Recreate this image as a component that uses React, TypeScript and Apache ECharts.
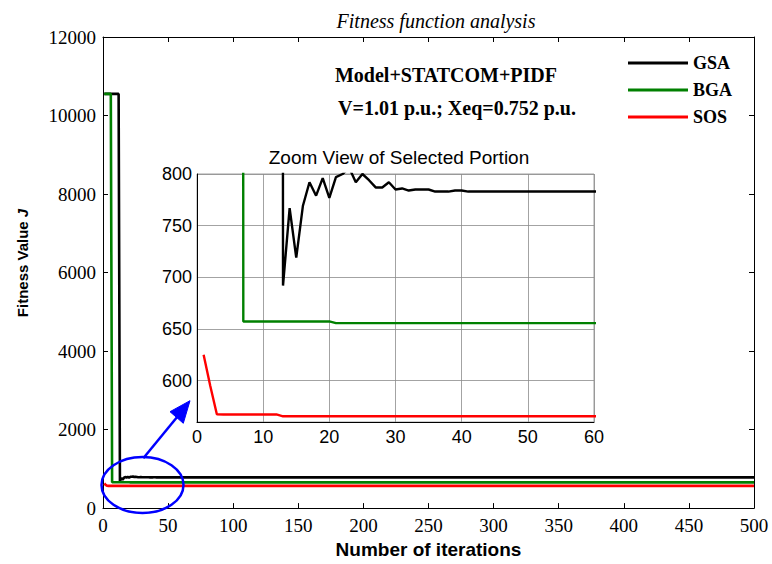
import React, { useEffect, useRef } from "react";
import * as echarts from "echarts";

// Fitness value per iteration (iterations 1..60); the curve stays flat after that until iteration 500
const gsaValues = [
  10550, 10550, 10550, 10550, 10550, 10550, 10550, 10550, 10550, 10550,
  10550, 10550, 692, 767, 719, 769, 792, 779, 796, 777,
  797, 800, 806, 792, 800, 794, 787, 787, 792, 785,
  786, 784, 785, 785, 785, 783, 783, 783, 784, 784,
  783, 783, 783, 783, 783, 783, 783, 783, 783, 783,
  783, 783, 783, 783, 783, 783, 783, 783, 783, 783,
];
const bgaValues = [
  10550, 10550, 10550, 10550, 10550, 10550, 657.3, 657.3, 657.3, 657.3,
  657.3, 657.3, 657.3, 657.3, 657.3, 657.3, 657.3, 657.3, 657.3, 657.3,
  655.7, 655.7, 655.7, 655.7, 655.7, 655.7, 655.7, 655.7, 655.7, 655.7,
  655.7, 655.7, 655.7, 655.7, 655.7, 655.7, 655.7, 655.7, 655.7, 655.7,
  655.7, 655.7, 655.7, 655.7, 655.7, 655.7, 655.7, 655.7, 655.7, 655.7,
  655.7, 655.7, 655.7, 655.7, 655.7, 655.7, 655.7, 655.7, 655.7, 655.7,
];
const sosValues = [
  625, 595, 567.5, 567.3, 567.3, 567.3, 567.3, 567.3, 567.3, 567.3,
  567.3, 567.3, 565.5, 565.5, 565.5, 565.5, 565.5, 565.5, 565.5, 565.5,
  565.5, 565.5, 565.5, 565.5, 565.5, 565.5, 565.5, 565.5, 565.5, 565.5,
  565.5, 565.5, 565.5, 565.5, 565.5, 565.5, 565.5, 565.5, 565.5, 565.5,
  565.5, 565.5, 565.5, 565.5, 565.5, 565.5, 565.5, 565.5, 565.5, 565.5,
  565.5, 565.5, 565.5, 565.5, 565.5, 565.5, 565.5, 565.5, 565.5, 565.5,
];
const lastIteration = 500;
const seriesNames = ["GSA", "BGA", "SOS"];
const seriesColors = ["#000000", "#008000", "#ff0000"];

const titleText = "Fitness function analysis";
const insetTitle = "Zoom View of Selected Portion";
const xAxisTitle = "Number of iterations";
const yAxisTitle = "Fitness Value ";
const yAxisSymbol = "J";
const noteLine1 = "Model+STATCOM+PIDF";
const noteLine2 = "V=1.01 p.u.; Xeq=0.752 p.u.";

const SERIF = "'Liberation Serif', 'Times New Roman', serif";
const SANS = "'Liberation Sans', Arial, sans-serif";

function toPairs(vals: number[]): number[][] {
  const pts = vals.map((v, i) => [i + 1, v]);
  pts.push([lastIteration, vals[vals.length - 1]]);
  return pts;
}

const plain = (v: number) => String(v);

export default function App() {
  const ref = useRef<HTMLDivElement>(null);
  useEffect(() => {
    if (!ref.current) return;
    const chart = echarts.init(ref.current, undefined, { renderer: "svg" });
    const allValues = [gsaValues, bgaValues, sosValues];

    const mainSeries = allValues.map((vals, i) => ({
      type: "line",
      name: seriesNames[i],
      xAxisIndex: 0,
      yAxisIndex: 0,
      data: toPairs(vals),
      showSymbol: false,
      symbol: "none",
      lineStyle: { color: seriesColors[i], width: 2.6 },
      itemStyle: { color: seriesColors[i] },
      z: 2,
    }));
    const insetSeries = allValues.map((vals, i) => ({
      type: "line",
      name: seriesNames[i],
      xAxisIndex: 2,
      yAxisIndex: 2,
      data: toPairs(vals),
      showSymbol: false,
      symbol: "none",
      clip: true,
      lineStyle: { color: seriesColors[i], width: 2.4 },
      itemStyle: { color: seriesColors[i] },
      z: 12,
    }));

    const mainTickLabel = { fontFamily: SERIF, fontSize: 19, color: "#000", formatter: plain };
    const insetTickLabel = { fontFamily: SANS, fontSize: 18, color: "#000", formatter: plain };
    const blackLine = { show: true, onZero: false, lineStyle: { color: "#000", width: 1 } };
    const inTick = { show: true, inside: true, length: 5, lineStyle: { color: "#000" } };

    chart.setOption({
      animation: false,
      backgroundColor: "#ffffff",
      title: [
        {
          text: titleText,
          left: 431,
          top: 6,
          textAlign: "center",
          textStyle: { fontFamily: SERIF, fontStyle: "italic", fontWeight: "normal", fontSize: 20, color: "#000" },
        },
        {
          text: insetTitle,
          left: 394,
          top: 143,
          textAlign: "center",
          textStyle: { fontFamily: SANS, fontWeight: "normal", fontSize: 19, color: "#000" },
        },
      ],
      legend: {
        data: seriesNames,
        orient: "vertical",
        left: 623,
        top: 49,
        icon: "rect",
        itemWidth: 60,
        itemHeight: 3,
        itemGap: 9,
        selectedMode: false,
        textStyle: { fontFamily: SERIF, fontWeight: "bold", fontSize: 18, lineHeight: 18, color: "#000" },
      },
      grid: [
        { left: 103, top: 37, width: 651, height: 474, containLabel: false },
        {
          left: 197,
          top: 174,
          width: 397,
          height: 248,
          show: true,
          backgroundColor: "#ffffff",
          borderColor: "#a0a0a0",
          borderWidth: 1,
          z: 10,
        },
      ],
      xAxis: [
        {
          type: "value",
          gridIndex: 0,
          min: 0,
          max: 500,
          interval: 50,
          position: "bottom",
          name: xAxisTitle,
          nameLocation: "middle",
          nameGap: 30,
          nameTextStyle: { fontFamily: SANS, fontWeight: "bold", fontSize: 19, color: "#000" },
          axisLine: blackLine,
          axisTick: inTick,
          axisLabel: { ...mainTickLabel, margin: 8 },
          splitLine: { show: false },
        },
        {
          type: "value",
          gridIndex: 0,
          min: 0,
          max: 500,
          interval: 50,
          position: "top",
          axisLine: blackLine,
          axisTick: inTick,
          axisLabel: { show: false },
          splitLine: { show: false },
        },
        {
          type: "value",
          gridIndex: 1,
          min: 0,
          max: 60,
          interval: 10,
          position: "bottom",
          z: 11,
          axisLine: blackLine,
          axisTick: { show: false },
          axisLabel: { ...insetTickLabel, margin: 6 },
          splitLine: { show: true, lineStyle: { color: "#8c8c8c", width: 0.8 } },
        },
      ],
      yAxis: [
        {
          type: "value",
          gridIndex: 0,
          min: 0,
          max: 12000,
          interval: 2000,
          position: "left",
          axisLine: blackLine,
          axisTick: inTick,
          axisLabel: { ...mainTickLabel, margin: 7 },
          splitLine: { show: false },
        },
        {
          type: "value",
          gridIndex: 0,
          min: 0,
          max: 12000,
          interval: 2000,
          position: "right",
          axisLine: blackLine,
          axisTick: inTick,
          axisLabel: { show: false },
          splitLine: { show: false },
        },
        {
          type: "value",
          gridIndex: 1,
          min: 560,
          max: 800,
          minInterval: 50,
          maxInterval: 50,
          position: "left",
          z: 11,
          axisLine: blackLine,
          axisTick: { show: false },
          axisLabel: { ...insetTickLabel, margin: 5, showMinLabel: false },
          splitLine: { show: true, lineStyle: { color: "#8c8c8c", width: 0.8 } },
        },
      ],
      graphic: [
        {
          type: "text",
          x: 22,
          y: 263,
          rotation: Math.PI / 2,
          z: 20,
          style: {
            text: "{a|" + yAxisTitle + "}{b|" + yAxisSymbol + "}",
            align: "center",
            verticalAlign: "middle",
            rich: {
              a: { fontFamily: SANS, fontWeight: "bold", fontSize: 15, fill: "#000" },
              b: { fontFamily: SANS, fontWeight: "bold", fontStyle: "italic", fontSize: 15, fill: "#000" },
            },
          },
        },
        {
          type: "text",
          x: 446,
          y: 75,
          z: 20,
          style: {
            text: noteLine1,
            fontFamily: SERIF,
            fontWeight: "bold",
            fontSize: 20,
            fill: "#000",
            align: "center",
            verticalAlign: "middle",
          },
        },
        {
          type: "text",
          x: 457,
          y: 108,
          z: 20,
          style: {
            text: noteLine2,
            fontFamily: SERIF,
            fontWeight: "bold",
            fontSize: 20,
            fill: "#000",
            align: "center",
            verticalAlign: "middle",
          },
        },
        {
          type: "ellipse",
          z: 30,
          shape: { cx: 142.5, cy: 485, rx: 41, ry: 28 },
          style: { fill: "none", stroke: "#0000ff", lineWidth: 2.5 },
        },
        {
          type: "line",
          z: 30,
          shape: { x1: 143.3, y1: 458.3, x2: 180, y2: 413.5 },
          style: { stroke: "#0000ff", lineWidth: 2.5 },
        },
        {
          type: "polygon",
          z: 30,
          shape: { points: [[190, 400.7], [170, 411.7], [183.3, 423.3]] },
          style: { fill: "#0000ff", stroke: "#0000ff", lineWidth: 1 },
        },
      ],
      series: [...mainSeries, ...insetSeries],
    });
    return () => chart.dispose();
  }, []);
  return (
    <div
      ref={ref}
      style={{ position: "fixed", left: 0, top: 0, width: 772, height: 564, background: "#fff" }}
    />
  );
}
